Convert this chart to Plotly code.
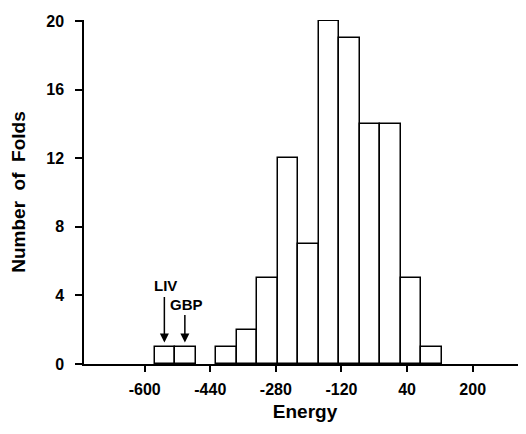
import plotly.graph_objects as go

bin_centers = [-550, -500, -400, -350, -300, -250, -200, -150, -100, -50, 0, 50, 100]
counts = [1, 1, 1, 2, 5, 12, 7, 20, 19, 14, 14, 5, 1]
bin_width = 50

x_tickvals = [-600, -440, -280, -120, 40, 200]
x_ticktext = ["-600", "-440", "-280", "-120", "40", "200"]
y_tickvals = [0, 4, 8, 12, 16, 20]

markers = [("LIV", -552, 4.0, 4.55), ("GBP", -502, 2.95, 3.45)]

FONT = "Liberation Sans"
SP = "\u00a0\u00a0"

fig = go.Figure()
fig.add_trace(go.Bar(
    x=bin_centers, y=counts, width=bin_width,
    marker=dict(color="white", line=dict(color="black", width=1.5)),
))

for label, xv, tail, ty in markers:
    fig.add_annotation(x=xv, y=1.25, ax=xv, ay=tail, xref="x", yref="y",
                       axref="x", ayref="y", showarrow=True, arrowhead=2,
                       arrowsize=1.2, arrowwidth=1.5, arrowcolor="black", text="")
    fig.add_annotation(x=xv + 3, y=ty, xref="x", yref="y", text=label, showarrow=False,
                       font=dict(family=FONT, size=15, color="black", weight="bold"))

fig.update_layout(
    width=518, height=426,
    margin=dict(l=76, r=0, t=12, b=70),
    plot_bgcolor="white", paper_bgcolor="white",
    showlegend=False, bargap=0,
    xaxis=dict(range=[-748, 330], tickvals=x_tickvals, ticktext=x_ticktext,
               automargin=False,
               showline=True, linecolor="black", linewidth=1.5,
               ticks="outside", ticklen=6, tickwidth=1.5, tickcolor="black",
               showgrid=False, zeroline=False, ticklabelstandoff=4,
               tickfont=dict(family=FONT, size=16, color="black", weight="bold"),
               title=dict(text="Energy", standoff=8,
                          font=dict(family=FONT, size=19, color="black", weight="bold"))),
    yaxis=dict(range=[0, 20.06], tickvals=y_tickvals, automargin=False,
               showline=True, linecolor="black", linewidth=1.5,
               ticks="outside", ticklen=7, tickwidth=1.5, tickcolor="black",
               showgrid=False, zeroline=False, ticklabelstandoff=8,
               tickfont=dict(family=FONT, size=16, color="black", weight="bold"),
               title=dict(text="Number" + SP + "of" + SP + "Folds", standoff=18,
                          font=dict(family=FONT, size=19, color="black", weight="bold"))),
)

fig.write_html("out.html")
